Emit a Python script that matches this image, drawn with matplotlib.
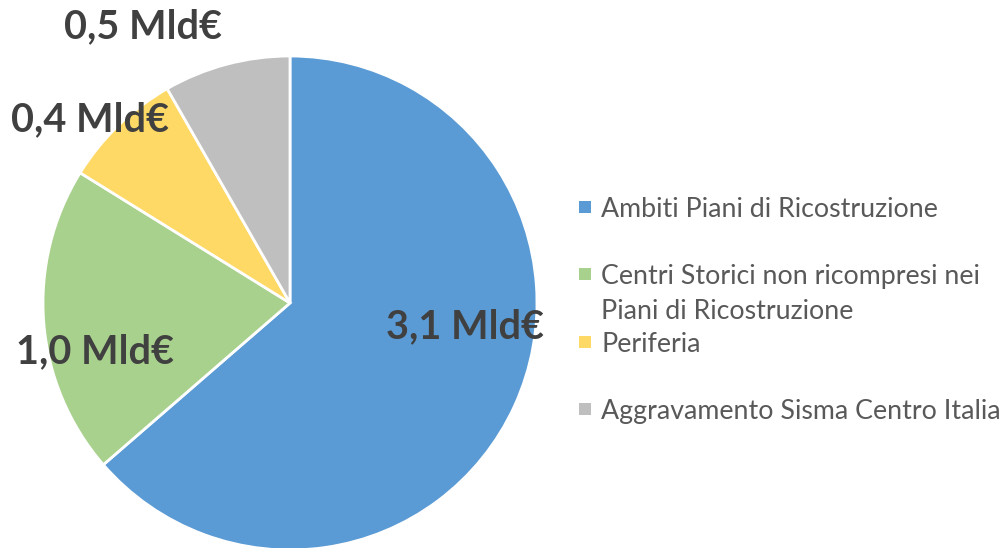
import matplotlib
matplotlib.use('Agg')
import matplotlib.pyplot as plt
from matplotlib.patches import Rectangle

# Values (Mld€)
categories = ['Ambiti Piani di Ricostruzione',
              'Centri Storici non ricompresi nei\nPiani di Ricostruzione',
              'Periferia',
              'Aggravamento Sisma Centro Italia']
values = [3.15, 1.0, 0.39, 0.41]
value_labels = ['3,1 Mld€', '1,0 Mld€', '0,4 Mld€', '0,5 Mld€']
colors = ['#5B9BD5', '#A9D18E', '#FFD966', '#BFBFBF']

# where excel put the data labels (pie radius = 1)
label_pos = [(0.709, -0.097), (-0.789, -0.198), (-0.810, 0.741), (-0.595, 1.117)]

W, H = 1007, 548
fig = plt.figure(figsize=(W / 100, H / 100), dpi=100)
plt.rcParams['font.family'] = ['Lato', 'DejaVu Sans']

cx, cy, r = 290, 245, 247
ax = fig.add_axes([(cx - r) / W, (cy - r) / H, 2 * r / W, 2 * r / H])
ax.pie(values, colors=colors, startangle=90, counterclock=False, radius=1,
       wedgeprops=dict(edgecolor='white', linewidth=2))
ax.set_xlim(-1, 1)
ax.set_ylim(-1, 1)
ax.axis('off')

for txt, (x, y) in zip(value_labels, label_pos):
    ax.text(x, y, txt, ha='center', va='center', fontsize=28.5, fontweight='bold',
            color='#404040', clip_on=False)

# legend drawn by hand to keep excel spacing (baselines in px from top)
legend_base = [217, 284, 352, 419]
line_gap = 35
for cat, col, yb in zip(categories, colors, legend_base):
    fig.add_artist(Rectangle((579 / W, 1 - (yb - 4) / H), 12 / W, 12 / H,
                             transform=fig.transFigure, color=col, lw=0))
    for i, line in enumerate(cat.split('\n')):
        fig.text(601 / W, 1 - (yb + i * line_gap) / H, line, ha='left', va='baseline',
                 fontsize=19.3, color='#595959')

fig.savefig('out.png', dpi=100)
